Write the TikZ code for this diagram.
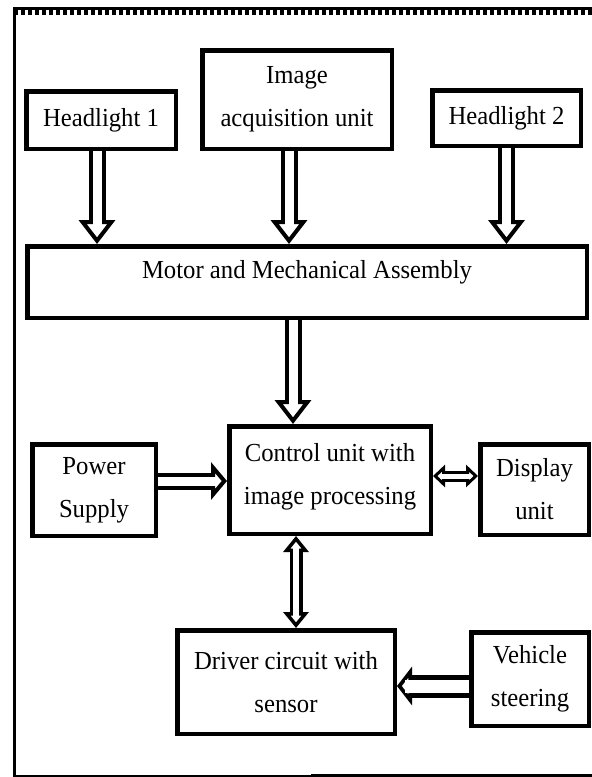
\documentclass[tikz,border=0pt]{standalone}
\usepackage{fontspec}
\setmainfont{Liberation Serif}[FakeStretch=0.95]
\usepackage{tikz}
\usetikzlibrary{arrows.meta}

\begin{document}
\begin{tikzpicture}[x=0.5pt, y=-0.5pt]
	\useasboundingbox (0,0) rectangle (592,777);
	
	\tikzstyle{every node}=[draw, line width=2.25pt, inner sep=0pt, align=center, font=\fontsize{13}{21.5}\selectfont]
	\tikzstyle{fat arrow}=[double, line width=2pt, double distance=4.5pt, -{Triangle[open, fill=white, length=12pt, width=18pt, line width=2pt]}, postaction={draw=white, line width=4.5pt, -, shorten >=9pt}]
	\tikzstyle{short arrow}=[double, line width=2pt, double distance=4.5pt, -{Triangle[open, fill=white, length=8pt, width=18.5pt, line width=2pt]}, postaction={draw=white, line width=4.5pt, -, shorten >=5pt}]
	\tikzstyle{thin both}=[double, line width=1.5pt, double distance=2.5pt, {Triangle[open, fill=white, length=6pt, width=11pt, line width=1.5pt]}-{Triangle[open, fill=white, length=6pt, width=11pt, line width=1.5pt]}, postaction={draw=white, line width=2.5pt, -, shorten >=3.5pt, shorten <=3.5pt}]
	\tikzstyle{mid both}=[double, line width=1.75pt, double distance=3pt, {Triangle[open, fill=white, length=8pt, width=12.5pt, line width=1.75pt]}-{Triangle[open, fill=white, length=8pt, width=12.5pt, line width=1.75pt]}, postaction={draw=white, line width=3pt, -, shorten >=5pt, shorten <=5pt}]
	\tikzstyle{wide arrow}=[double, line width=2.5pt, double distance=6.5pt, -{Triangle[open, fill=white, length=7.5pt, width=19pt, line width=2.5pt]}, postaction={draw=white, line width=6.5pt, -, shorten >=4pt}]
	
	% frame
	\draw[line width=1.5pt] (14,7) -- (14,776);
	\draw[line width=1.5pt] (13,8.5) -- (592,8.5);
	\draw[line width=2.5pt, dash pattern=on 2pt off 1.5pt] (14,12.5) -- (592,12.5);
	\draw[line width=1pt] (13,775.5) -- (311,775.5);
	\draw[line width=2pt] (311,776) -- (592,776);
	
	% top row
	\node[minimum width=74.75pt, minimum height=28.75pt] (hl1) at (101,120) {Headlight 1};
	\node[minimum width=94.75pt, minimum height=49.25pt] (img) at (297,99.5) {Image\\acquisition unit};
	\node[minimum width=74.25pt, minimum height=27.75pt] (hl2) at (506.5,118) {Headlight 2};
	
	\node[minimum width=279.75pt, minimum height=35.75pt] (motor) at (307,282) {\raisebox{5pt}[\height][\depth]{Motor and Mechanical Assembly}};
	
	% middle row
	\node[minimum width=100.75pt, minimum height=53.75pt] (ctrl) at (330,480) {\raisebox{3pt}[\height][\depth]{\begin{tabular}{@{}c@{}}Control unit with\\image processing\end{tabular}}};
	\node[minimum width=61.75pt, minimum height=45.75pt] (pow) at (94,490) {Power\\Supply};
	\node[minimum width=54.25pt, minimum height=45.25pt] (disp) at (534.5,489.5) {Display\\unit};
	
	% bottom row
	\node[minimum width=108.75pt, minimum height=51.75pt] (drv) at (286,682) {Driver circuit with\\sensor};
	\node[minimum width=58.75pt, minimum height=46.75pt] (veh) at (530,679) {Vehicle\\steering};
	
	\draw[fat arrow] ([xshift=-2pt]hl1.south) -- ([xshift=-2pt]hl1.south |- motor.north);
	\draw[fat arrow] ([xshift=-4pt]img.south) -- ([xshift=-4pt]img.south |- motor.north);
	\draw[fat arrow] (hl2.south) -- (hl2.south |- motor.north);
	\draw[fat arrow] ([xshift=-18.5pt]ctrl.north |- motor.south) -- ([xshift=-18.5pt]ctrl.north);
	
	\draw[short arrow] ([yshift=-0.5pt]ctrl.west -| pow.east) -- ([yshift=-0.5pt]ctrl.west);
	\draw[thin both] ([yshift=2pt]ctrl.east) -- ([yshift=2pt]ctrl.east -| disp.west);
	\draw[mid both] ([xshift=-17pt]ctrl.south) -- ([xshift=-17pt]ctrl.south |- drv.north);
	\draw[wide arrow] ([yshift=-3.5pt]veh.west) -- ([yshift=-3.5pt]veh.west -| drv.east);
	
\end{tikzpicture}
\end{document}
